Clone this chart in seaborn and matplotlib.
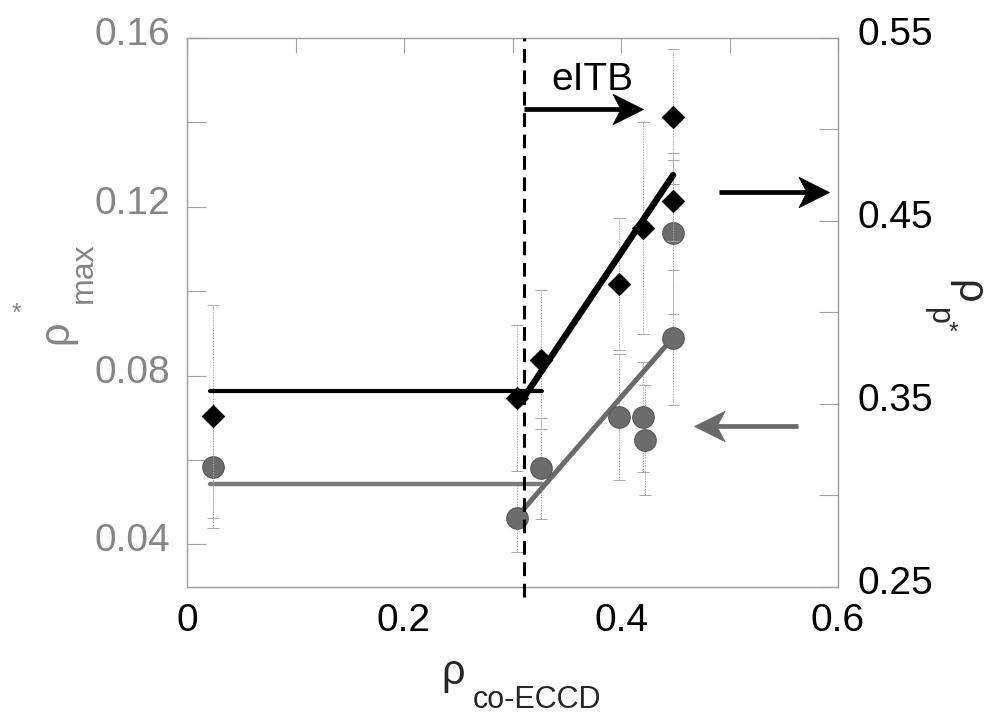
import numpy as np
import pandas as pd
import matplotlib
matplotlib.use("Agg")
import matplotlib.pyplot as plt
import matplotlib.transforms as mtransforms
from matplotlib.path import Path
import seaborn as sns

# ECCD deposition radius vs. peak of the q-profile reversal (left axis)
circ_x = [0.024, 0.304, 0.326, 0.398, 0.420, 0.422, 0.448, 0.448]
circ_y = [0.0583, 0.0462, 0.0580, 0.0702, 0.0701, 0.0647, 0.1137, 0.0890]
circ_err = [0.012, 0.008, 0.012, 0.015, 0.013, 0.013, 0.019, 0.016]

# ECCD deposition radius vs. pressure-gradient foot (right axis)
diam_x = [0.024, 0.304, 0.326, 0.398, 0.420, 0.448, 0.448]
diam_y = [0.343, 0.353, 0.374, 0.4155, 0.446, 0.507, 0.461]
diam_err = [0.061, 0.040, 0.038, 0.036, 0.058, 0.037, 0.022]

# trend lines
max_flat_x, max_flat_y = [0.021, 0.3275], [0.0542, 0.0542]
max_rise_x, max_rise_y = [0.304, 0.448], [0.0465, 0.089]
p_flat_x, p_flat_y = [0.021, 0.3275], [0.3568, 0.3568]
p_rise_x, p_rise_y = [0.310, 0.448], [0.353, 0.475]

eitb_onset = 0.311

x_ticks = [0.0, 0.1, 0.2, 0.3, 0.4, 0.5, 0.6]
x_labels = ["0", "", "0.2", "", "0.4", "", "0.6"]
left_ticks = [0.04, 0.06, 0.08, 0.10, 0.12, 0.14, 0.16]
left_labels = ["0.04", "", "0.08", "", "0.12", "", "0.16"]
right_ticks = [0.25, 0.30, 0.35, 0.40, 0.45, 0.50, 0.55]
right_labels = ["0.25", "", "0.35", "", "0.45", "", "0.55"]

sns.set_theme(style="white")
plt.rcParams["font.family"] = ["Liberation Sans", "DejaVu Sans"]

W, H = 989, 722
fig = plt.figure(figsize=(W / 100, H / 100), dpi=100)
ax = fig.add_axes([187 / W, 1 - 586.5 / H, (838 - 187) / W, (586.5 - 38) / H])
ax2 = ax.twinx()

GREY = "#6c6c6c"
LABEL_GREY = "#858585"
FRAME = "#a0a0a0"

ax.set_xlim(0, 0.6)
ax.set_ylim(0.03, 0.16)
ax2.set_ylim(0.25, 0.55)

# error bars
eb1 = ax.errorbar(circ_x, circ_y, yerr=circ_err, fmt="none", ecolor="#a8a8a8",
                  elinewidth=0.7, capsize=4, capthick=0.7, zorder=1)
eb1[2][0].set_linestyle((0, (1.5, 1.2)))
eb2 = ax2.errorbar(diam_x, diam_y, yerr=diam_err, fmt="none", ecolor="#a8a8a8",
                   elinewidth=0.7, capsize=4, capthick=0.7, zorder=1)
eb2[2][0].set_linestyle((0, (1.5, 1.2)))

# grey series on the left axis
sns.lineplot(x=max_flat_x, y=max_flat_y, ax=ax, color="#7a7a7a", lw=3.2,
             sort=False, estimator=None, zorder=2)
sns.lineplot(x=max_rise_x, y=max_rise_y, ax=ax, color="#6a6a6a", lw=3.6,
             sort=False, estimator=None, zorder=2)
sns.scatterplot(x=circ_x, y=circ_y, ax=ax, marker="o", s=240, color=GREY,
                edgecolor="#555555", linewidth=0.8, zorder=3)

# black series on the right axis
sns.lineplot(x=p_flat_x, y=p_flat_y, ax=ax2, color="black", lw=3.0, sort=False,
             estimator=None, zorder=2)
sns.lineplot(x=p_rise_x, y=p_rise_y, ax=ax2, color="black", lw=4.6, sort=False,
             estimator=None, zorder=2)
sns.scatterplot(x=diam_x, y=diam_y, ax=ax2, marker="D", s=132, color="black",
                edgecolor="black", linewidth=0.5, zorder=3)

# eITB onset
ax2.axvline(eitb_onset, ymin=-0.02, ymax=1.0, color="black", lw=2.2,
            ls=(0, (4.5, 2.5)), clip_on=False, zorder=4)
ax2.text(0.336, 0.527, "eITB", fontsize=28, color="black", ha="left", va="center")

# barbed arrow heads: tip at the path origin, pointing right
head_right = Path([(0, 0), (-1, 0.5), (-0.74, 0), (-1, -0.5), (0, 0)],
                  [Path.MOVETO, Path.LINETO, Path.LINETO, Path.LINETO, Path.CLOSEPOLY])
head_left = Path([(0, 0), (1, 0.5), (0.74, 0), (1, -0.5), (0, 0)],
                 [Path.MOVETO, Path.LINETO, Path.LINETO, Path.LINETO, Path.CLOSEPOLY])


def arrow(a, x_from, x_to, y, color, head):
    back = x_to - 0.02 if x_to > x_from else x_to + 0.02
    a.plot([x_from, back], [y, y], color=color, lw=3.4, solid_capstyle="butt",
           zorder=5)
    a.plot([x_to], [y], marker=head, ms=44, color=color, mec=color, mew=0.5,
           zorder=5)


arrow(ax2, eitb_onset, 0.420, 0.511, "black", head_right)
arrow(ax2, 0.490, 0.592, 0.466, "black", head_right)
arrow(ax, 0.563, 0.467, 0.068, "#6a6a6a", head_left)

# ticks and frame
ax.set_xticks(x_ticks)
ax.set_xticklabels(x_labels)
ax.set_yticks(left_ticks)
ax.set_yticklabels(left_labels)
ax2.set_yticks(right_ticks)
ax2.set_yticklabels(right_labels)
ax.tick_params(axis="x", direction="in", length=11, width=0.8, color=FRAME,
               labelsize=28, pad=12, top=True, labelcolor="black")
ax.tick_params(axis="y", direction="in", length=14, width=0.8, color=FRAME,
               labelsize=28, pad=12, labelcolor=LABEL_GREY, right=False)
ax2.tick_params(axis="y", direction="in", length=14, width=0.8, color=FRAME,
                labelsize=28, pad=14, labelcolor="black")
for a in (ax, ax2):
    a.grid(False)
    for sp in a.spines.values():
        sp.set_color(FRAME)
        sp.set_linewidth(0.9)
ax.set_xlim(0, 0.6)
ax.set_xlabel("")
ax.set_ylabel("")
ax2.set_ylabel("")

# vertical tick labels sit a little above their ticks
lift = mtransforms.ScaledTranslation(0, 7 / 100, fig.dpi_scale_trans)
for lab in ax.get_yticklabels() + ax2.get_yticklabels():
    lab.set_transform(lab.get_transform() + lift)

# axis titles assembled from pieces
def px(x, y):
    return x / W, 1 - y / H

fig.text(*px(453, 673), "ρ", fontsize=30, ha="center", va="center")
fig.text(*px(537, 700), "co-ECCD", fontsize=22, ha="center", va="center")

fig.text(*px(56, 332), "ρ", fontsize=30, rotation=90, ha="center", va="center",
         color=LABEL_GREY)
fig.text(*px(84, 273), "max", fontsize=23, rotation=90, ha="center", va="center",
         color=LABEL_GREY)
fig.text(*px(16, 314), "*", fontsize=18, ha="center", va="center", color=LABEL_GREY)

fig.text(*px(967, 292), "ρ", fontsize=30, rotation=270, ha="center", va="center")
fig.text(*px(938, 315), "p", fontsize=22, rotation=270, ha="center", va="center")
fig.text(*px(953, 333), "*", fontsize=18, ha="center", va="center")

fig.savefig("out.png", dpi=100)
